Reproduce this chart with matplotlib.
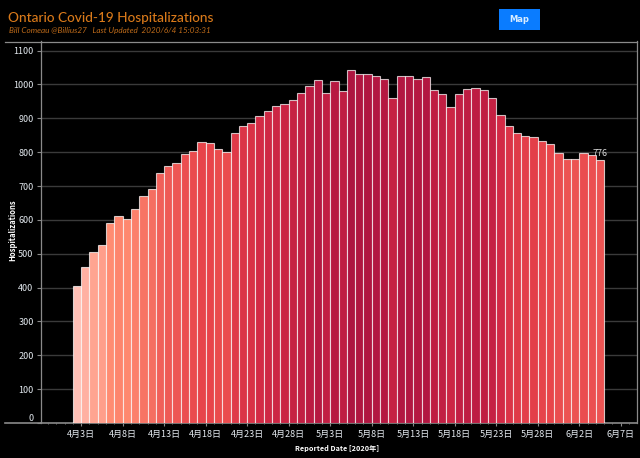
import pandas as pd
from matplotlib import pyplot as plt
from matplotlib.colors import LinearSegmentedColormap, Normalize
from matplotlib.patches import Rectangle
from matplotlib.ticker import FixedLocator, FuncFormatter
import matplotlib.dates as mdates

plt.rcParams['font.family'] = ['Noto Sans CJK SC', 'DejaVu Sans']

hospitalizations = [
    405, 462, 505, 525, 590, 612, 604, 631, 671, 690, 738, 758, 768, 794, 805, 829,
    827, 808, 801, 858, 877, 885, 908, 923, 935, 943, 955, 974, 997, 1014, 974, 1009,
    982, 1042, 1031, 1031, 1026, 1016, 959, 1026, 1024, 1017, 1023, 984, 973, 933, 971, 986,
    989, 983, 960, 911, 877, 858, 847, 845, 832, 825, 799, 779, 779, 799, 791, 776,
]
report_dates = pd.date_range("2020-04-02", periods=len(hospitalizations), freq="D")
tick_dates = pd.date_range("2020-04-03", "2020-06-07", freq="5D")
y_ticks = list(range(0, 1200, 100))

W, H = 640, 458
LEFT, RIGHT, TOP, BOTTOM = 40.5, 636.5, 41.5, 423.0
LINE_GREY = "#8a8a8a"
TICK_TEXT = "#e4eaf0"

fig = plt.figure(figsize=(W / 100, H / 100), dpi=100, facecolor="black")
ax = fig.add_axes([LEFT / W, 1 - BOTTOM / H, (RIGHT - LEFT) / W, (BOTTOM - TOP) / H], facecolor="black")

# colore in base al valore, come la scala rossa di Tableau
cmap = LinearSegmentedColormap.from_list(
    "reds",
    [(0.0, "#ffc0b6"), (0.3, "#ff8a70"), (0.52, "#f0605a"), (0.66, "#e8454a"),
     (0.78, "#d52c45"), (0.92, "#bd1c42"), (1.0, "#ad1540")],
)
norm = Normalize(vmin=min(hospitalizations), vmax=max(hospitalizations))
x = mdates.date2num(report_dates)
ax.bar(x, hospitalizations, width=1.0, align="edge", color=cmap(norm(hospitalizations)),
       edgecolor=(1, 1, 1, 0.72), linewidth=0.8, zorder=3)

ax.set_xlim(mdates.date2num(pd.Timestamp("2020-03-29")) + 0.1, mdates.date2num(pd.Timestamp("2020-06-08")) - 0.1 + 1.0)
ax.set_ylim(0, 1127)

ax.yaxis.set_major_locator(FixedLocator(y_ticks))
ax.xaxis.set_major_locator(FixedLocator(mdates.date2num(tick_dates)))
ax.xaxis.set_minor_locator(mdates.DayLocator())
ax.xaxis.set_major_formatter(FuncFormatter(
    lambda v, pos: f"{mdates.num2date(v).month}月{mdates.num2date(v).day}日"))

ax.grid(axis="y", color="#3a3a3a", linewidth=1.0, zorder=0)
ax.set_axisbelow(True)
ax.tick_params(axis="y", colors=TICK_TEXT, labelsize=6.5, length=3, width=0.8, pad=2, color=LINE_GREY)
ax.tick_params(axis="x", which="major", colors=TICK_TEXT, labelsize=6.5, length=2, width=0.8, pad=3, color=LINE_GREY)
ax.tick_params(axis="x", which="minor", length=1, width=0.6, color=LINE_GREY)
for label in ax.get_yticklabels():
    if label.get_text() == "0":
        label.set_verticalalignment("bottom")
for label in ax.get_xticklabels():
    label.set_fontweight("medium")

for side in ["left", "right", "top"]:
    ax.spines[side].set_color(LINE_GREY)
    ax.spines[side].set_linewidth(0.9)
ax.spines["bottom"].set_color(LINE_GREY)
ax.spines["bottom"].set_linewidth(1.2)

# linee di cornice che sporgono a sinistra
fig.add_artist(plt.Line2D([5 / W, LEFT / W], [1 - TOP / H] * 2, color=LINE_GREY, linewidth=0.9))
fig.add_artist(plt.Line2D([5 / W, LEFT / W], [1 - BOTTOM / H] * 2, color=LINE_GREY, linewidth=1.2))

ax.annotate(str(hospitalizations[-1]), (x[-1] + 0.5, hospitalizations[-1]), xytext=(0, 1.5),
            textcoords="offset points", ha="center", va="bottom", color="#d8d8d8", fontsize=6.5, zorder=5)

fig.text(337 / W, 1 - 448.5 / H, "Reported Date [2020年]", color="white", fontsize=5.2,
         fontweight="bold", ha="center", va="center")
fig.text(13 / W, 1 - 230 / H, "Hospitalizations", color="white", fontsize=5.5,
         fontweight="bold", ha="center", va="center", rotation=90)

fig.text(8 / W, 1 - 17.5 / H, "Ontario Covid-19 Hospitalizations", color="#d8791a", fontsize=9.8,
         family="Lato", fontweight="medium", ha="left", va="center")
fig.text(9 / W, 1 - 31 / H, "Bill Comeau @Billius27   Last Updated  2020/6/4 15:03:31", color="#c06c1a",
         fontsize=5.85, family="Lato", style="italic", ha="left", va="center")

fig.add_artist(Rectangle((499 / W, 1 - 30 / H), 41 / W, 21 / H, transform=fig.transFigure,
                         facecolor="#0a7cff", edgecolor="none"))
fig.text(519.5 / W, 1 - 20 / H, "Map", color="#d8ecff", fontsize=6, fontweight="bold",
         family="DejaVu Sans", ha="center", va="center")

fig.savefig("out.png", dpi=100, facecolor="black")
